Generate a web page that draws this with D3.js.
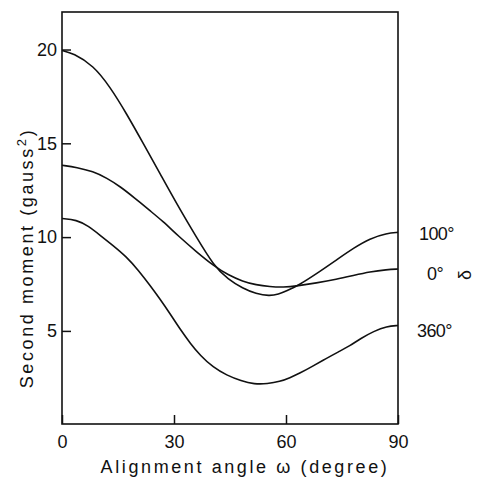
<!DOCTYPE html>
<html>
<head>
<meta charset="utf-8">
<script src="https://cdn.jsdelivr.net/npm/d3@7"></script>
<style>
  html, body { margin: 0; padding: 0; background: #fff; }
  svg { display: block; }
  text { font-family: "Liberation Sans", Arial, sans-serif; fill: #111; }
</style>
</head>
<body>
<svg id="chart" width="477" height="477"></svg>
<script>
// ---- data ----
const xTicks = [0, 30, 60, 90];
const yTicks = [5, 10, 15, 20];

const angle100 = [0, 3, 8.4, 12.9, 17.3, 21.8, 26.25, 31.2, 36, 40.7, 44.5, 48.4, 52, 55.5, 58, 60.2, 63.2, 69, 74, 78, 82.5, 87, 90];
const value100 = [19.95, 19.8, 19.15, 18.0, 16.58, 14.98, 13.39, 11.61, 10.0, 8.46, 7.75, 7.27, 6.98, 6.86, 6.95, 7.14, 7.41, 8.16, 8.85, 9.4, 9.93, 10.2, 10.25];

const angle0 = [0, 4, 8.3, 12, 15.7, 19.5, 23.6, 27, 31.2, 36, 40.7, 44.5, 48.4, 52, 55.7, 59.2, 63.2, 68, 73.6, 78, 82.5, 87, 90];
const value0 = [13.83, 13.72, 13.5, 13.15, 12.68, 12.08, 11.4, 10.85, 10.05, 9.22, 8.46, 7.98, 7.64, 7.45, 7.36, 7.32, 7.4, 7.55, 7.75, 7.95, 8.15, 8.27, 8.3];

const angle360 = [0, 3.9, 7, 10.2, 13.5, 17.3, 20.5, 23.6, 26.25, 29, 31.6, 34.5, 37, 40.5, 44.1, 48, 51.5, 55, 58.4, 61, 63.75, 67, 70.5, 74, 77.1, 80, 83.5, 87, 90];
const value360 = [10.99, 10.92, 10.6, 10.1, 9.58, 8.95, 8.22, 7.42, 6.7, 5.9, 5.1, 4.3, 3.7, 3.05, 2.64, 2.33, 2.16, 2.18, 2.3, 2.5, 2.75, 3.1, 3.5, 3.88, 4.2, 4.6, 4.98, 5.25, 5.29];

const seriesLabels = ["100°", "0°", "360°"];
const xTitle = "Alignment angle ω (degree)";
const yTitleMain = "Second moment (gauss";
const yTitleSup = "2";
const yTitleEnd = ")";
const deltaLabel = "δ";

// ---- layout ----
const svg = d3.select("#chart");
const L = 62, R = 398, T = 12, B = 424;

const x = d3.scaleLinear().domain([0, 90]).range([L, R]);
const y = d3.scaleLinear().domain([0, 22]).range([B + 0.7, T]);

// frame
svg.append("rect")
  .attr("x", L).attr("y", T)
  .attr("width", R - L).attr("height", B - T)
  .attr("fill", "none").attr("stroke", "#111").attr("stroke-width", 1.6);

// y axis
const yAxis = svg.append("g")
  .attr("transform", `translate(${L},0)`)
  .call(d3.axisLeft(y).tickValues(yTicks).tickSizeInner(-9).tickSizeOuter(0).tickPadding(5));
yAxis.select(".domain").remove();
yAxis.selectAll("line").attr("stroke", "#111").attr("stroke-width", 1.5);
yAxis.selectAll("text").attr("font-size", 18).attr("font-family", "Liberation Sans, Arial, sans-serif").attr("fill", "#111");

// x axis
const xAxis = svg.append("g")
  .attr("transform", `translate(0,${B})`)
  .call(d3.axisBottom(x).tickValues(xTicks).tickSizeInner(-9).tickSizeOuter(0).tickPadding(11));
xAxis.select(".domain").remove();
xAxis.selectAll("line").attr("stroke", "#111").attr("stroke-width", 1.5);
xAxis.selectAll("text").attr("font-size", 18).attr("font-family", "Liberation Sans, Arial, sans-serif").attr("fill", "#111");

// curves
const line = d3.line()
  .x(d => x(d[0]))
  .y(d => y(d[1]))
  .curve(d3.curveBasis);

const series = [
  [angle100, value100],
  [angle0, value0],
  [angle360, value360]
];

series.forEach(([a, v]) => {
  svg.append("path")
    .datum(a.map((d, i) => [d, v[i]]))
    .attr("d", line)
    .attr("fill", "none")
    .attr("stroke", "#111")
    .attr("stroke-width", 1.6);
});

// series labels at right
const labelPos = [
  { x: 419, y: 240 },
  { x: 427, y: 280 },
  { x: 417, y: 337 }
];
seriesLabels.forEach((t, i) => {
  svg.append("text")
    .attr("x", labelPos[i].x)
    .attr("y", labelPos[i].y)
    .attr("font-size", 18)
    .attr("letter-spacing", -0.6)
    .text(t);
});

// delta symbol (rotated)
svg.append("text")
  .attr("transform", "translate(466,275) rotate(-90)")
  .attr("text-anchor", "middle")
  .attr("dy", "0.3em")
  .attr("font-size", 18)
  .text(deltaLabel);

// x title
svg.append("text")
  .attr("x", 245).attr("y", 473)
  .attr("text-anchor", "middle")
  .attr("font-size", 18)
  .attr("letter-spacing", 2.6)
  .text(xTitle);

// y title
const yt = svg.append("text")
  .attr("transform", "translate(33,258) rotate(-90)")
  .attr("text-anchor", "middle")
  .attr("font-size", 18)
  .attr("letter-spacing", 2.6);
yt.append("tspan").text(yTitleMain);
yt.append("tspan").attr("dy", -7).attr("font-size", 13).text(yTitleSup);
yt.append("tspan").attr("dy", 7).text(yTitleEnd);
</script>
</body>
</html>
